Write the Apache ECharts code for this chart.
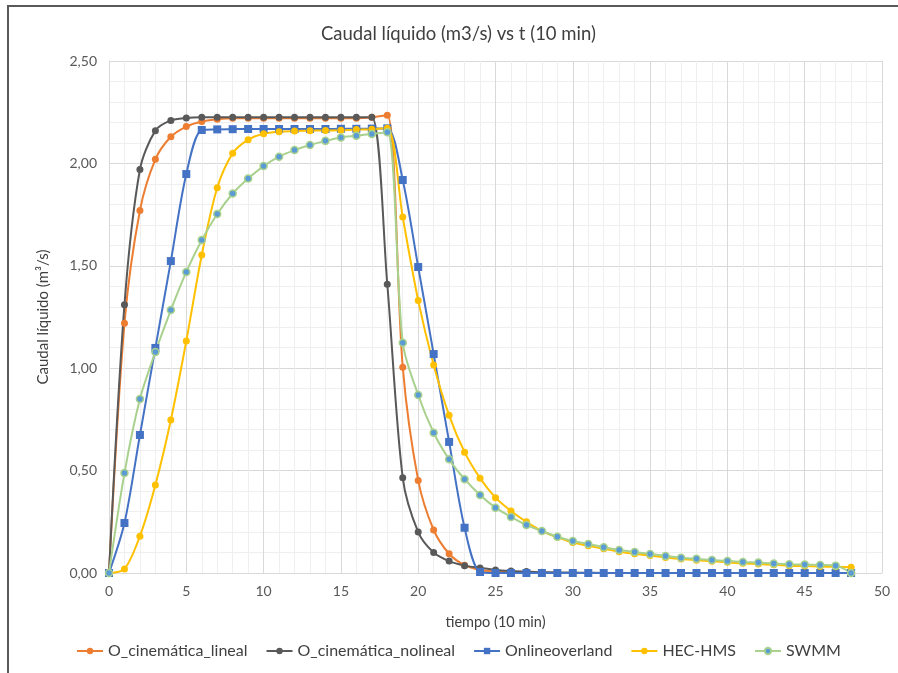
<!DOCTYPE html>
<html>
<head>
<meta charset="utf-8">
<script src="https://cdn.jsdelivr.net/npm/echarts@6/dist/echarts.min.js"></script>
<style>html,body{margin:0;padding:0;background:#fff;}#c{width:898px;height:673px;}</style>
</head>
<body>
<div id="c"></div>
<script>
const titleText = 'Caudal líquido (m3/s) vs t (10 min)';
const xName = 'tiempo (10 min)';
const yName = 'Caudal líquido (m³/s)';
const seriesNames = ['O_cinemática_lineal', 'O_cinemática_nolineal', 'Onlineoverland', 'HEC-HMS', 'SWMM'];
const tiempo = [0,1,2,3,4,5,6,7,8,9,10,11,12,13,14,15,16,17,18,19,20,21,22,23,24,25,26,27,28,29,30,31,32,33,34,35,36,37,38,39,40,41,42,43,44,45,46,47,48];

const oLineal = [0,1.22,1.77,2.02,2.13,2.18,2.205,2.215,2.22,2.22,2.22,2.22,2.22,2.22,2.22,2.22,2.22,2.225,2.235,1.005,0.452,0.21,0.094,0.038,0.015,0.007,0.003,0.001,0,0,0,0,0,0,0,0,0,0,0,0,0,0,0,0,0,0,0,0,0];
const oNoLineal = [0,1.31,1.97,2.16,2.21,2.222,2.225,2.225,2.225,2.225,2.225,2.225,2.225,2.225,2.225,2.225,2.225,2.225,1.41,0.465,0.2,0.1,0.058,0.036,0.025,0.015,0.01,0.007,0.004,0.003,0.002,0.001,0,0,0,0,0,0,0,0,0,0,0,0,0,0,0,0,0];
const online = [0,0.244,0.674,1.099,1.523,1.948,2.163,2.166,2.167,2.168,2.168,2.168,2.168,2.168,2.168,2.169,2.169,2.17,2.171,1.919,1.494,1.069,0.64,0.221,0.005,0,0,0,0,0,0,0,0,0,0,0,0,0,0,0,0,0,0,0,0,0,0,0,0];
const hecHms = [0,0.02,0.18,0.43,0.747,1.133,1.553,1.881,2.049,2.116,2.145,2.155,2.158,2.16,2.161,2.162,2.165,2.167,2.172,1.738,1.33,1.016,0.77,0.59,0.463,0.368,0.303,0.25,0.205,0.174,0.149,0.133,0.118,0.104,0.094,0.085,0.076,0.068,0.062,0.057,0.052,0.047,0.044,0.04,0.036,0.034,0.032,0.03,0.028];
const swmm = [0,0.488,0.85,1.079,1.284,1.47,1.626,1.753,1.853,1.926,1.987,2.033,2.065,2.09,2.11,2.127,2.135,2.144,2.152,1.124,0.869,0.685,0.555,0.458,0.381,0.319,0.274,0.234,0.205,0.177,0.156,0.142,0.126,0.112,0.103,0.093,0.083,0.075,0.069,0.064,0.059,0.054,0.051,0.046,0.043,0.041,0.039,0.036,0];

const FONT = 'Lato, "Liberation Sans", sans-serif';
const pairs = arr => tiempo.map((t, i) => [t, arr[i]]);

const chart = echarts.init(document.getElementById('c'), null, {renderer: 'canvas'});

function mk(name, data, color, symbol, size, symFill, symBorder) {
  return {
    name: name, type: 'line', data: pairs(data), smooth: 0.3,
    symbol: symbol, symbolSize: size, showSymbol: true,
    lineStyle: {color: color, width: 2},
    itemStyle: {color: symFill || color, borderColor: symBorder || color, borderWidth: symBorder ? 1.5 : 0},
    emphasis: {disabled: true},
    animation: false
  };
}

chart.setOption({
  animation: false,
  backgroundColor: '#fff',
  title: {text: titleText, left: 316, top: 20, textStyle: {fontFamily: FONT, fontSize: 18.5, fontWeight: 'normal', color: '#404040'}},
  graphic: [{type: 'rect', shape: {x: 8, y: 6, width: 1200, height: 1200}, style: {fill: 'none', stroke: '#595959', lineWidth: 2}, silent: true}],
  grid: {left: 109, right: 16, top: 61, bottom: 100, containLabel: false},
  legend: {
    bottom: 9, left: 71, itemWidth: 26, itemHeight: 8, itemGap: 18,
    textStyle: {fontFamily: FONT, fontSize: 16, color: '#404040'},
    data: seriesNames
  },
  xAxis: {
    type: 'value', min: 0, max: 50, interval: 5,
    name: xName, nameLocation: 'middle', nameGap: 42,
    nameTextStyle: {fontFamily: FONT, fontSize: 14.5, color: '#404040'},
    axisLine: {show: true, lineStyle: {color: '#d9d9d9'}},
    axisTick: {show: false},
    axisLabel: {fontFamily: FONT, fontSize: 14, color: '#595959', margin: 11},
    splitLine: {show: true, lineStyle: {color: '#d9d9d9', width: 1}},
    minorTick: {show: false, splitNumber: 5},
    minorSplitLine: {show: true, lineStyle: {color: '#efefef', width: 1}}
  },
  yAxis: {
    type: 'value', min: 0, max: 2.5, interval: 0.5,
    name: yName, nameLocation: 'middle', nameGap: 58, nameRotate: 90,
    nameTextStyle: {fontFamily: FONT, fontSize: 15, color: '#404040'},
    axisLine: {show: true, lineStyle: {color: '#d9d9d9'}},
    axisTick: {show: false},
    axisLabel: {fontFamily: FONT, fontSize: 14, color: '#595959', margin: 12, formatter: v => v.toFixed(2).replace('.', ',')},
    splitLine: {show: true, lineStyle: {color: '#d9d9d9', width: 1}},
    minorTick: {show: false, splitNumber: 5},
    minorSplitLine: {show: true, lineStyle: {color: '#efefef', width: 1}}
  },
  series: [
    mk(seriesNames[0], oLineal, '#ED7D31', 'circle', 7),
    mk(seriesNames[1], oNoLineal, '#595959', 'circle', 7),
    mk(seriesNames[2], online, '#4472C4', 'rect', 8),
    mk(seriesNames[3], hecHms, '#FFC000', 'circle', 7),
    mk(seriesNames[4], swmm, '#A9D18E', 'circle', 7, '#5B9BD5', '#A9D18E')
  ]
});
</script>
</body>
</html>
